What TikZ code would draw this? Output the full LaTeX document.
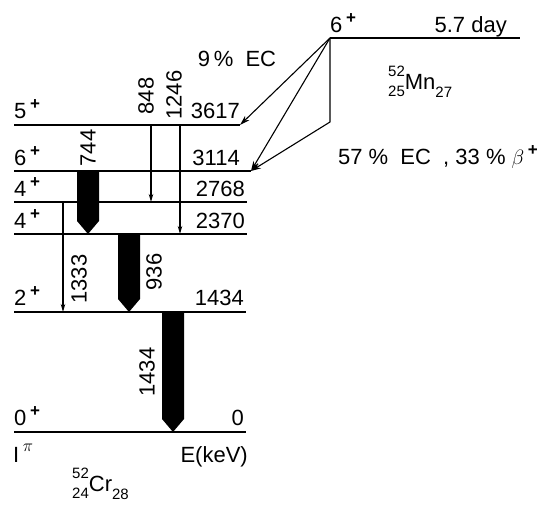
\documentclass[tikz,border=0pt]{standalone}
\usepackage{fontspec}
\setmainfont{Liberation Sans}
\usetikzlibrary{arrows.meta, positioning, calc}
\newcommand{\nuc}[4]{\makebox[0pt][l]{\raisebox{0.62em}{\fontsize{15}{15}\selectfont #1}}\raisebox{-0.3em}{\fontsize{15}{15}\selectfont #2}#3\raisebox{-0.35em}{\fontsize{15}{15}\selectfont #4}}
\newcommand{\pl}{\,\raisebox{0.42em}{\fontsize{17}{17}\selectfont\bfseries +}}

\begin{document}
\begin{tikzpicture}[x=1pt, y=-1pt, >={Stealth[length=8pt, width=4.5pt]},
  font=\fontsize{22}{26}\selectfont,
  level/.style={line width=1.7pt},
  thingamma/.style={->, line width=1.1pt},
  decay/.style={->, line width=1.1pt, >={Stealth[length=10pt, width=6pt]}},
  spin/.style={anchor=base west, inner sep=0pt},
  energy/.style={anchor=base east, inner sep=0pt},
  glabel/.style={rotate=90, inner sep=0pt}]
  \useasboundingbox (0,0) rectangle (550,505);
  % levels of 52Cr
  \foreach \n/\y/\r in {l3617/125/240, l3114/171/251, l2768/202/247, l2370/234/247, l1434/312/246, l0/432/246} {
    \coordinate (\n-w) at (14,\y);
    \coordinate (\n-e) at (\r,\y);
    \draw[level] (\n-w) -- (\n-e);
  }
  % parent level
  \coordinate (mn-w) at (330,38);
  \coordinate (mn-e) at (520,38);
  \draw[level] (mn-w) -- (mn-e);
  \node[anchor=base west, inner sep=0pt] (mnspin) at (330,33) {6\pl};
  \node[anchor=base east, inner sep=0pt] (life) at (507,33) {5.7 day};
  \node[anchor=base west, inner sep=0pt] (mn) at (388,90) {\nuc{52}{25}{Mn}{27}};
  % spins and energies
  \node[spin] (s3617) at (14,119) {5\pl};
  \node[spin] (s3114) at (14,166) {6\pl};
  \node[spin] (s2768) at (14,197) {4\pl};
  \node[spin] (s2370) at (14,229) {4\pl};
  \node[spin] (s1434) at (14,306) {2\pl};
  \node[spin] (s0) at (14,426) {0\pl};
  \node[energy] (e3617) at (240,119) {3617};
  \node[energy] (e3114) at (240,166) {3114};
  \node[energy] (e2768) at (245,197) {2768};
  \node[energy] (e2370) at (245,229) {2370};
  \node[energy] (e1434) at (244,306) {1434};
  \node[energy] (e0) at (244,426) {0};
  \node[anchor=base west, inner sep=0pt] (ipi) at (13,463) {{\rmfamily I}\,\raisebox{0.5em}{\fontsize{16}{16}\selectfont$\pi$}};
  \node[anchor=base east, inner sep=0pt] (ekev) at (248,463) {E(keV)};
  \node[anchor=base west, inner sep=0pt] (cr) at (72,492) {\nuc{52}{24}{Cr}{28}};
  % EC branches
  \node[anchor=base, inner sep=0pt] (ec9) at (237,67) {9\,\% \ EC};
  \node[anchor=base, inner sep=0pt] (ec57) at (438,165) {57 \% \ EC \ , 33 \% $\beta$\pl};
  \coordinate (bend) at (330,122);
  \draw[decay] (mn-w) -- (l3617-e);
  \draw[decay] (mn-w) -- (l3114-e);
  \draw[decay] (mn-w) -- (bend) -- (l3114-e);
  % thin gammas
  \draw[thingamma] (151,0 |- l3617-w) -- (151,0 |- l2768-w);
  \draw[thingamma] (180,0 |- l3617-w) -- (180,0 |- l2370-w);
  \draw[thingamma] (63,0 |- l2768-w) -- (63,0 |- l1434-w);
  % thick gammas
  \foreach \x/\s/\e in {88/l3114/l2370, 129/l2370/l1434, 173/l1434/l0}
    \fill (\x-11,0 |- \s-w) -- ($(\x-11,0 |- \e-w)+(0,-13)$) -- (\x,0 |- \e-w)
      -- ($(\x+11,0 |- \e-w)+(0,-13)$) -- (\x+11,0 |- \s-w) -- cycle;
  % gamma labels
  \node[glabel] (t848) at (146,96) {848};
  \node[glabel] (t1246) at (174,95) {1246};
  \node[glabel] (t744) at (88,148) {744};
  \node[glabel] (t1333) at (79,279) {1333};
  \node[glabel] (t936) at (154,272) {936};
  \node[glabel] (t1434) at (147,372) {1434};
\end{tikzpicture}
\end{document}
